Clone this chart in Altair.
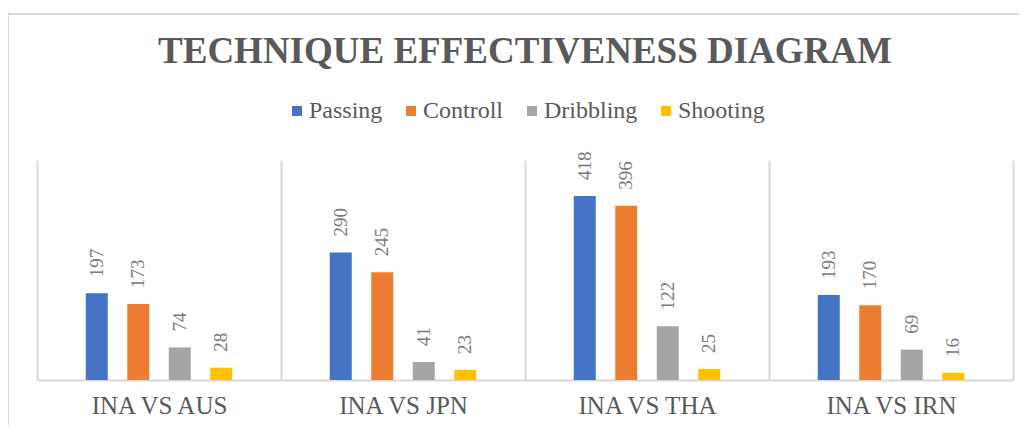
import altair as alt
import pandas as pd

matches = ["INA VS AUS", "INA VS JPN", "INA VS THA", "INA VS IRN"]
series = ["Passing", "Controll", "Dribbling", "Shooting"]
passing = [197, 290, 418, 193]
controll = [173, 245, 396, 170]
dribbling = [74, 41, 122, 69]
shooting = [28, 23, 25, 16]
colors = ["#4472C4", "#ED7D31", "#A5A5A5", "#FFC000"]
title_text = "TECHNIQUE EFFECTIVENESS DIAGRAM"

rows = []
for vals, s in zip([passing, controll, dribbling, shooting], series):
    for m, v in zip(matches, vals):
        rows.append({"match": m, "series": s, "value": v})
df = pd.DataFrame(rows)

FONT = "Liberation Serif"

x_enc = alt.X("match:N", sort=matches, title=None,
              scale=alt.Scale(paddingInner=0, paddingOuter=0),
              axis=alt.Axis(labelAngle=0, labelFont=FONT, labelFontSize=25,
                            labelColor="#595959", labelPadding=13,
                            domainColor="#d9d9d9", domainWidth=2,
                            ticks=False, grid=True, gridColor="#d9d9d9",
                            gridWidth=2, tickBand="extent"))
xo_enc = alt.XOffset("series:N", sort=series,
                     scale=alt.Scale(paddingInner=0.12, paddingOuter=1))
y_enc = alt.Y("value:Q", scale=alt.Scale(domain=[0, 500]),
              axis=None)

base = alt.Chart(df)

bars = base.mark_bar(width=22).encode(
    x=x_enc, xOffset=xo_enc, y=y_enc,
    color=alt.Color("series:N", sort=series,
                    scale=alt.Scale(domain=series, range=colors),
                    legend=alt.Legend(title=None, orient="none",
                                      direction="horizontal",
                                      legendX=248, legendY=-61,
                                      symbolType="square", symbolSize=100,
                                      symbolStrokeWidth=0,
                                      labelFont=FONT, labelFontSize=24,
                                      labelColor="#595959", labelOffset=0,
                                      columnPadding=16)),
)

labels = base.mark_text(angle=270, align="left", baseline="middle", dx=16,
                        font=FONT, fontSize=19, color="#7a7a7a").encode(
    x=x_enc, xOffset=xo_enc, y=y_enc, text="value:Q"
)

frame_df = pd.DataFrame({"k": [0]})
frame_left = alt.Chart(frame_df).mark_rule(color="#d9d9d9", strokeWidth=2).encode(
    x=alt.value(-29), y=alt.value(-146), y2=alt.value(270)
)
frame_top = alt.Chart(frame_df).mark_rule(color="#d9d9d9", strokeWidth=2).encode(
    x=alt.value(-29), x2=alt.value(1000), y=alt.value(-146)
)
title_df = pd.DataFrame({"t": [title_text]})
title_mark = alt.Chart(title_df).mark_text(
    font=FONT, fontSize=37, fontWeight="bold", color="#595959",
    align="center", baseline="alphabetic").encode(
    x=alt.value(488), y=alt.value(-97), text="t:N"
)

chart = alt.layer(frame_left, frame_top, title_mark, bars, labels).properties(
    width=976, height=220,
    autosize=alt.AutoSizeParams(type="none"),
    padding={"left": 29, "top": 152, "right": 6, "bottom": 45},
).configure_view(stroke=None)

chart.save("out.html", embed_options={"renderer": "svg", "actions": False})
